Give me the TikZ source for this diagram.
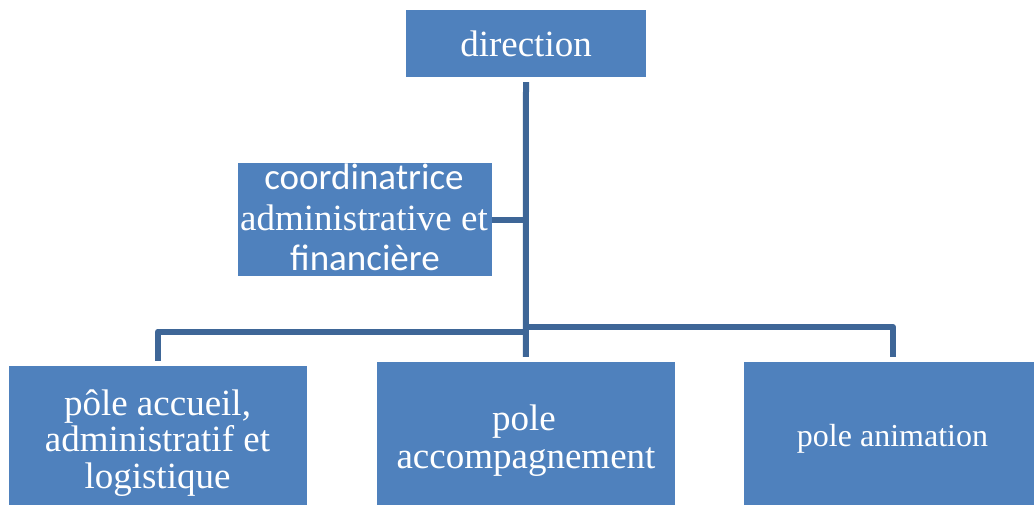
\documentclass[tikz,border=0pt]{standalone}
\usepackage{fontspec}
\setmainfont{Liberation Serif}
\newfontfamily\carlfont{Carlito}
\usetikzlibrary{fit}
\definecolor{boxblue}{HTML}{4F81BD}
\definecolor{linkblue}{HTML}{3E6697}
\tikzset{
  orgbox/.style={draw=none, fill=boxblue, inner sep=0pt},
  lbl/.style={text=white, inner sep=0pt, anchor=base, font=\fontsize{37}{38}\selectfont},
  lblsmall/.style={lbl, font=\fontsize{32}{34}\selectfont},
  conn/.style={draw=linkblue, line width=6pt, line join=round}
}
\begin{document}
\begin{tikzpicture}[x=1pt, y=-1pt]
\useasboundingbox (0,0) rectangle (1034,504);
\clip (0,0) rectangle (1034,504);
% boxes
\node[orgbox, fit={(406,10) (646,77)}] (dir) {};
\node[orgbox, fit={(238,163) (492,276)}] (coord) {};
\node[orgbox, fit={(9,366) (307,530)}] (acc) {};
\node[orgbox, fit={(376.7,362) (675,530)}] (accomp) {};
\node[orgbox, fit={(744,362) (1042,530)}] (anim) {};
% texts
\node[lbl] (tdir) at (526,56) {direction};
\node[lbl, font=\carlfont\fontsize{37}{38}\selectfont] (tc1) at (364,189) {coordinatrice};
\node[lbl] (tc2) at (364,230) {administrative et};
\node[lbl, font=\carlfont\fontsize{37}{38}\selectfont] (tc3) at (365,270.5) {financière};
\node[lbl] (ta1) at (157.5,415) {pôle accueil,};
\node[lbl] (ta2) at (157.5,451.5) {administratif et};
\node[lbl] (ta3) at (157.5,488) {logistique};
\node[lbl] (tp1) at (524,430) {pole};
\node[lbl] (tp2) at (526,468) {accompagnement};
\node[lblsmall] (tan) at (892.5,446) {pole animation};
% junctions
\coordinate (hubL) at (526,331.5);
\coordinate (hubR) at (526,327);
\coordinate (dropR) at (893,357);
% connectors
\draw[conn] ([yshift=-5pt]dir.south) -- ([yshift=5pt]accomp.north);
\draw[conn] (coord.east) -- (coord.east -| hubL);
\draw[conn] (hubL) -| ([yshift=5pt]acc.north);
\draw[conn] (hubR) -| (dropR);
\end{tikzpicture}
\end{document}
